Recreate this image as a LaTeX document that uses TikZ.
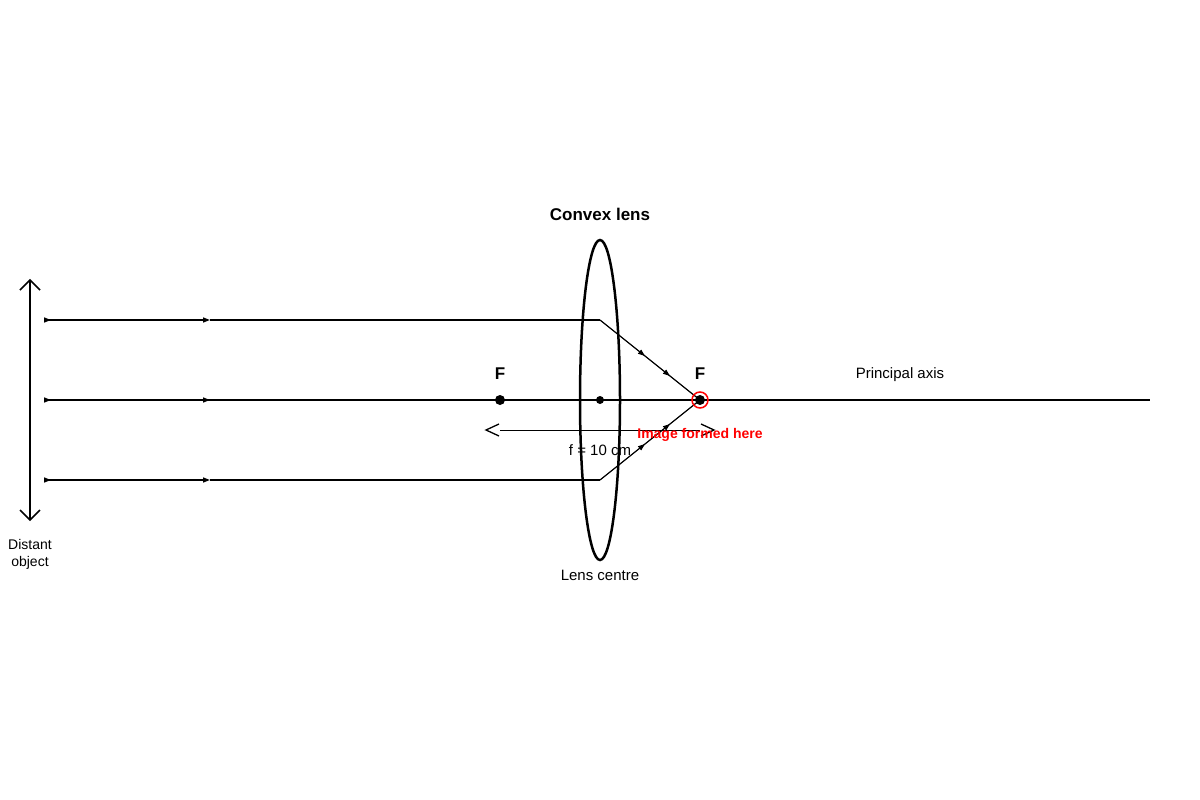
\documentclass[tikz,border=0pt]{standalone}
\usepackage{fontspec}
\setmainfont{Liberation Sans}
\usetikzlibrary{arrows.meta,decorations.markings}
\begin{document}
\begin{tikzpicture}[x=1pt,y=-1pt]
\tikzset{
  ray/.style={line width=1.4pt},
  tip/.style={-{Triangle[length=7pt,width=5pt]}},
  midtips/.style={postaction={decorate},decoration={markings,
    mark=at position 0.45 with {\arrow{Triangle[length=7pt,width=5pt]}},
    mark=at position 0.7 with {\arrow{Triangle[length=7pt,width=5pt]}}}},
  lbl/.style={font=\fontsize{15}{18}\selectfont},
  dot/.style={circle,fill,inner sep=0pt,minimum size=#1}
}
\useasboundingbox (0,0) rectangle (1200,800);
% points on the axis
\node[dot=10pt] (F1) at (500,400) {};
\node[dot=8pt] (O) at (600,400) {};
\node[dot=10pt] (F2) at (700,400) {};
\coordinate (axisL) at (50,400);
\coordinate (axisR) at (1150,400);
% lens
\draw[line width=2.5pt] (600,400) ellipse (20 and 160);
\node[lbl,font=\bfseries\fontsize{17}{20}\selectfont] (lens) at (600,214) {Convex lens};
\node[lbl] (centre) at (600,575) {Lens centre};
% principal axis and rays
\draw[ray] (axisL) -- (axisR);
\foreach \y/\n in {320/t,400/m,480/b}{
  \coordinate (s\n) at (50,\y);
  \coordinate (a\n) at (210,\y);
  \draw[ray,tip] (s\n) -- +(1,0);
  \draw[ray,tip] (s\n) -- (a\n);
}
\coordinate (lt) at (600,320);
\coordinate (lb) at (600,480);
\draw[ray] (at) -- (lt);
\draw[ray] (ab) -- (lb);
\draw[line width=1.2pt,midtips] (lt) -- (F2.center);
\draw[line width=1.2pt,midtips] (lb) -- (F2.center);
\node[circle,draw=red,line width=1.5pt,minimum size=16pt,inner sep=0pt] (img) at (F2) {};
\node[lbl,font=\bfseries\fontsize{17}{20}\selectfont] at (500,374) {F};
\node[lbl,font=\bfseries\fontsize{17}{20}\selectfont] at (700,374) {F};
\node[lbl] (axis) at (900,375) {Principal axis};
% object
\coordinate (ot) at (30,280);
\coordinate (ob) at (30,520);
\draw[line width=1.5pt] (ot) -- (ob);
\draw[line width=1.5pt] (20,290) -- (ot) -- (40,290);
\draw[line width=1.5pt] (20,510) -- (ob) -- (40,510);
\node[lbl,font=\fontsize{14}{17}\selectfont,align=center] (obj) at (30,554) {Distant\\object};
% focal length
\coordinate (dl) at (500,430);
\coordinate (dr) at (700,430);
\draw[line width=1pt] (dl) -- (dr);
\draw[line width=1.3pt] (499,424) -- (486,430) -- (499,436);
\draw[line width=1.3pt] (701,424) -- (714,430) -- (701,436);
\node[lbl] (f) at (600,450) {f = 10 cm};
\node[text=red,font=\bfseries\fontsize{14}{17}\selectfont] (imgtxt) at (700,435) {Image formed here};
\end{tikzpicture}
\end{document}
